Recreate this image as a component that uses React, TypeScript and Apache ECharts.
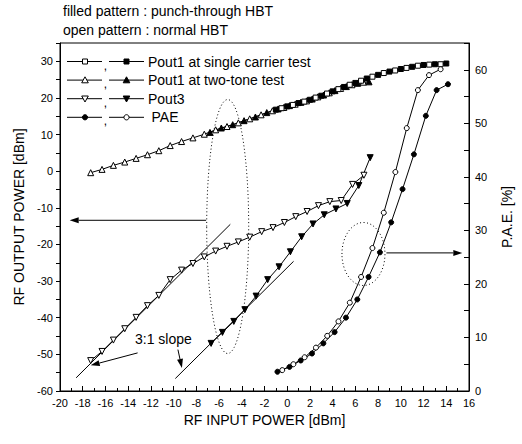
import React, { useEffect, useRef } from 'react';
import * as echarts from 'echarts';

const FONT = "'Liberation Sans', Arial, Helvetica, sans-serif";

const titleLines = ['filled pattern : punch-through HBT', 'open pattern : normal HBT'];
const legendLabels = ['Pout1 at single carrier test', 'Pout1 at two-tone test', 'Pout3', 'PAE'];
const xAxisName = 'RF INPUT POWER [dBm]';
const yLeftName = 'RF OUTPUT POWER [dBm]';
const yRightName = 'P.A.E. [%]';
const slopeLabel = '3:1 slope';

// Pout1 at single carrier test
const singleOpenX = [-0.5, 0.5, 1.5, 2.5, 3.5, 4.5, 5.5, 6.5, 7.5, 8.5, 9.5, 10.5, 11.5, 12.5, 13.5];
const singleOpenY = [17.2, 18.1, 19.0, 20.1, 21.2, 22.4, 23.6, 24.7, 25.8, 26.8, 27.5, 28.2, 28.8, 29.1, 29.2];
const singleFilledX = [-1, 0, 1, 2, 3, 4, 5, 6, 7, 8, 9, 10, 11, 12, 13, 14];
const singleFilledY = [16.8, 17.7, 18.6, 19.5, 20.6, 21.8, 23.0, 24.1, 25.3, 26.3, 27.2, 27.9, 28.5, 29.0, 29.2, 29.4];

// Pout1 at two-tone test
const twoToneOpenX = [-17.3, -16.3, -15.3, -14.3, -13.3, -12.3, -11.3, -10.3, -9.3, -8.3, -7.3, -6.3, -5.3, -4.3, -3.3, -2.3, -1.3, -0.3, 0.7, 1.7, 2.7, 3.7, 4.7, 5.7, 6.7];
const twoToneOpenY = [-0.4, 0.5, 1.6, 2.5, 3.5, 4.5, 5.6, 7.0, 8.1, 9.1, 10.1, 11.3, 12.2, 13.2, 14.3, 15.4, 16.5, 17.4, 18.3, 19.2, 20.3, 21.4, 22.6, 23.6, 24.3];
const twoToneFilledX = [-6.8, -5.8, -4.8, -3.8, -2.8, -1.8, -0.8, 0.2, 1.2, 2.2, 3.2, 4.2, 5.2, 6.2, 7.2];
const twoToneFilledY = [10.6, 11.8, 12.7, 13.8, 14.8, 16.0, 17.0, 17.9, 18.8, 19.7, 20.8, 22.0, 23.1, 24.0, 24.4];

// Pout3
const pout3OpenX = [-17.3, -16.3, -15.3, -14.3, -13.3, -12.3, -11.3, -10.3, -9.3, -8.3, -7.3, -6.3, -5.3, -4.3, -3.3, -2.25, -1.25, -0.25, 0.75, 1.75, 2.75, 3.75, 4.75, 5.75, 6.75];
const pout3OpenY = [-51.7, -49.2, -46.1, -43.0, -39.9, -36.7, -33.9, -29.6, -27.0, -25.2, -23.4, -21.8, -20.5, -19.3, -18.0, -16.5, -15.4, -14.0, -12.4, -11.0, -9.4, -8.3, -8.0, -3.6, -1.1];
const pout3FilledX = [-6.7, -5.7, -4.7, -3.73, -2.74, -1.72, -0.72, 0.28, 1.27, 2.27, 3.26, 4.29, 5.28, 6.3, 7.3];
const pout3FilledY = [-47.0, -44.0, -41.0, -37.8, -34.1, -29.6, -26.1, -22.0, -17.9, -14.4, -11.9, -10.3, -8.8, -3.9, 3.7];

// PAE (right axis)
const paeOpenX = [-0.44, 0.54, 1.53, 2.53, 3.52, 4.51, 5.51, 6.5, 7.5, 8.5, 9.52, 10.52, 11.5, 12.48, 13.5];
const paeOpenY = [3.9, 5.0, 6.3, 8.1, 10.3, 13.0, 16.5, 21.3, 26.7, 33.3, 40.9, 49.1, 56.2, 59.0, 60.1];
const paeFilledX = [-0.86, 0.2, 1.19, 2.18, 3.18, 4.17, 5.17, 6.17, 7.16, 8.16, 9.15, 10.15, 11.15, 12.2, 13.15, 14.15];
const paeFilledY = [3.6, 4.5, 5.7, 7.0, 8.9, 11.0, 13.7, 17.1, 21.3, 25.9, 31.5, 37.7, 44.2, 51.4, 56.2, 57.3];

// annotation anchors in left-axis data coordinates
const bigEllipseCenter = [-5.24, -15.1];
const smallEllipseCenter = [6.71, -22.6];
const leftArrow = [[-7.14, -13.4], [-19.15, -13.4]];
const rightArrow = [[8.73, -22.3], [15.41, -22.3]];
const slopeLine1 = [[-18.58, -56.4], [-5.01, -14.5]];
const slopeLine2 = [[-9.85, -56.6], [0.56, -24.6]];
const slopeTextPos = [-10.9, -45.8];
const slopeArrowA = [[-13.17, -49.6], [-17.3, -53.0]];
const slopeArrowB = [[-9.62, -48.7], [-9.27, -53.7]];

const zip = (xs: number[], ys: number[]) => xs.map((x, i) => [x, ys[i]]);

type Kind = 'rect' | 'tri' | 'down' | 'circle';

function markerGraphic(kind: Kind, cx: number, cy: number, filled: boolean) {
  const style = { fill: filled ? '#000' : '#fff', stroke: '#000', lineWidth: 1 };
  if (kind === 'rect') return { type: 'rect', shape: { x: cx - 2.5, y: cy - 2.5, width: 5, height: 5 }, style, z: 10 };
  if (kind === 'circle') return { type: 'circle', shape: { cx, cy, r: 2.6 }, style, z: 10 };
  if (kind === 'tri')
    return { type: 'polygon', shape: { points: [[cx, cy - 3.3], [cx + 3.3, cy + 2.7], [cx - 3.3, cy + 2.7]] }, style, z: 10 };
  return { type: 'polygon', shape: { points: [[cx, cy + 3.3], [cx + 3.3, cy - 2.7], [cx - 3.3, cy - 2.7]] }, style, z: 10 };
}

function lineSeries(name: string, data: number[][], symbol: string, filled: boolean, yAxisIndex = 0, rotate = 0, size = 5) {
  return {
    name,
    type: 'line',
    data,
    yAxisIndex,
    symbol,
    symbolSize: size,
    symbolRotate: rotate,
    showAllSymbol: true,
    lineStyle: { color: '#000', width: 1 },
    itemStyle: { color: filled ? '#000' : '#fff', borderColor: '#000', borderWidth: 1 },
    emphasis: { disabled: true },
  };
}

export default function App() {
  const ref = useRef<HTMLDivElement>(null);
  useEffect(() => {
    if (!ref.current) return;
    const chart = echarts.init(ref.current, undefined, { renderer: 'svg' });
    const axisLabelStyle = { color: '#000', fontSize: 11, fontFamily: FONT };
    const nameStyle = { color: '#000', fontSize: 14, fontFamily: FONT };
    chart.setOption({
      animation: false,
      backgroundColor: '#fff',
      grid: { left: 60, right: 40, top: 43, bottom: 53, show: true, borderColor: '#000', borderWidth: 1, backgroundColor: 'transparent' },
      xAxis: {
        type: 'value', min: -20, max: 16, interval: 2,
        name: xAxisName, nameLocation: 'middle', nameGap: 18, nameTextStyle: nameStyle,
        axisLine: { onZero: false, lineStyle: { color: '#000', width: 1 } },
        axisTick: { inside: true, length: 5, lineStyle: { color: '#000' } },
        minorTick: { show: true, splitNumber: 2, length: 3, lineStyle: { color: '#000' } },
        axisLabel: { ...axisLabelStyle, margin: 6 },
        splitLine: { show: false },
      },
      yAxis: [
        {
          type: 'value', min: -60, max: 35, interval: 5, position: 'left',
          name: yLeftName, nameLocation: 'middle', nameGap: 29, nameTextStyle: nameStyle,
          axisLine: { show: true, onZero: false, lineStyle: { color: '#000', width: 1 } },
          axisTick: { show: true, inside: false, length: 4, lineStyle: { color: '#000' } },
          axisLabel: { ...axisLabelStyle, margin: 7, formatter: (v: number) => (v % 10 === 0 && v <= 30 ? String(v) : '') },
          splitLine: { show: false },
        },
        {
          type: 'value', min: 0, max: 65, interval: 5, position: 'right',
          name: yRightName, nameLocation: 'middle', nameGap: 31, nameTextStyle: nameStyle,
          axisLine: { show: true, onZero: false, lineStyle: { color: '#000', width: 1 } },
          axisTick: { show: true, inside: true, length: 5, lineStyle: { color: '#000' } },
          axisLabel: { ...axisLabelStyle, margin: 6, formatter: (v: number) => (v % 10 === 0 && v <= 60 ? String(v) : '') },
          splitLine: { show: false },
        },
      ],
      series: [
        lineSeries('Pout1 two-tone open', zip(twoToneOpenX, twoToneOpenY), 'triangle', false, 0, 0, 6),
        lineSeries('Pout1 two-tone filled', zip(twoToneFilledX, twoToneFilledY), 'triangle', true, 0, 0, 6),
        lineSeries('Pout1 single open', zip(singleOpenX, singleOpenY), 'rect', false, 0, 0, 5),
        lineSeries('Pout1 single filled', zip(singleFilledX, singleFilledY), 'rect', true, 0, 0, 5),
        lineSeries('Pout3 open', zip(pout3OpenX, pout3OpenY), 'triangle', false, 0, 180, 6),
        lineSeries('Pout3 filled', zip(pout3FilledX, pout3FilledY), 'triangle', true, 0, 180, 6),
        lineSeries('PAE open', zip(paeOpenX, paeOpenY), 'circle', false, 1, 0, 5),
        lineSeries('PAE filled', zip(paeFilledX, paeFilledY), 'circle', true, 1, 0, 5),
      ],
    });

    const px = (p: number[]) => chart.convertToPixel({ xAxisIndex: 0, yAxisIndex: 0 }, p) as number[];
    const lineStyle = { stroke: '#000', lineWidth: 1 };
    const arrow = (a: number[], b: number[]) => {
      const p0 = px(a);
      const p1 = px(b);
      const dx = p1[0] - p0[0];
      const dy = p1[1] - p0[1];
      const len = Math.hypot(dx, dy);
      const ux = dx / len;
      const uy = dy / len;
      const hl = 9;
      const hw = 3;
      const bx = p1[0] - ux * hl;
      const by = p1[1] - uy * hl;
      return [
        { type: 'line', shape: { x1: p0[0], y1: p0[1], x2: bx, y2: by }, style: lineStyle },
        { type: 'polygon', shape: { points: [[p1[0], p1[1]], [bx - uy * hw, by + ux * hw], [bx + uy * hw, by - ux * hw]] }, style: { fill: '#000' } },
      ];
    };
    const seg = (l: number[][]) => {
      const a = px(l[0]);
      const b = px(l[1]);
      return { type: 'line', shape: { x1: a[0], y1: a[1], x2: b[0], y2: b[1] }, style: lineStyle };
    };
    const bc = px(bigEllipseCenter);
    const sc = px(smallEllipseCenter);
    const tp = px(slopeTextPos);
    const dotted = { fill: 'none', stroke: '#000', lineWidth: 1, lineDash: [1, 2.5] };

    const graphics: any[] = [
      { type: 'text', x: 63, y: 11, style: { text: titleLines[0], font: `14px ${FONT}`, fill: '#000', verticalAlign: 'middle' } },
      { type: 'text', x: 63, y: 29.5, style: { text: titleLines[1], font: `14px ${FONT}`, fill: '#000', verticalAlign: 'middle' } },
      { type: 'ellipse', shape: { cx: bc[0], cy: bc[1], rx: 21, ry: 127 }, style: dotted },
      { type: 'ellipse', shape: { cx: sc[0], cy: sc[1], rx: 21.5, ry: 31.5 }, style: dotted },
      ...arrow(leftArrow[0], leftArrow[1]),
      ...arrow(rightArrow[0], rightArrow[1]),
      seg(slopeLine1),
      seg(slopeLine2),
      { type: 'text', x: tp[0], y: tp[1], style: { text: slopeLabel, font: `14px ${FONT}`, fill: '#000', align: 'center', verticalAlign: 'middle' } },
      ...arrow(slopeArrowA[0], slopeArrowA[1]),
      ...arrow(slopeArrowB[0], slopeArrowB[1]),
    ];

    const kinds: Kind[] = ['rect', 'tri', 'down', 'circle'];
    legendLabels.forEach((label, i) => {
      const y = 61.5 + i * 18.6;
      const firstFilled = i === 3;
      graphics.push({ type: 'line', shape: { x1: 67, y1: y, x2: 102, y2: y }, style: lineStyle });
      graphics.push(markerGraphic(kinds[i], 85, y, firstFilled));
      graphics.push({ type: 'text', x: 105.5, y: y - 2, style: { text: ',', font: `12px ${FONT}`, fill: '#000', align: 'center', verticalAlign: 'top' } });
      graphics.push({ type: 'line', shape: { x1: 109, y1: y, x2: 144, y2: y }, style: lineStyle });
      graphics.push(markerGraphic(kinds[i], 126.5, y, !firstFilled));
      graphics.push({ type: 'text', x: i === 3 ? 151.5 : 148, y, style: { text: label, font: `14px ${FONT}`, fill: '#000', verticalAlign: 'middle' } });
    });

    chart.setOption({ graphic: graphics });
    return () => chart.dispose();
  }, []);
  return <div ref={ref} style={{ position: 'fixed', left: 0, top: 0, width: 522, height: 444, background: '#fff' }} />;
}
